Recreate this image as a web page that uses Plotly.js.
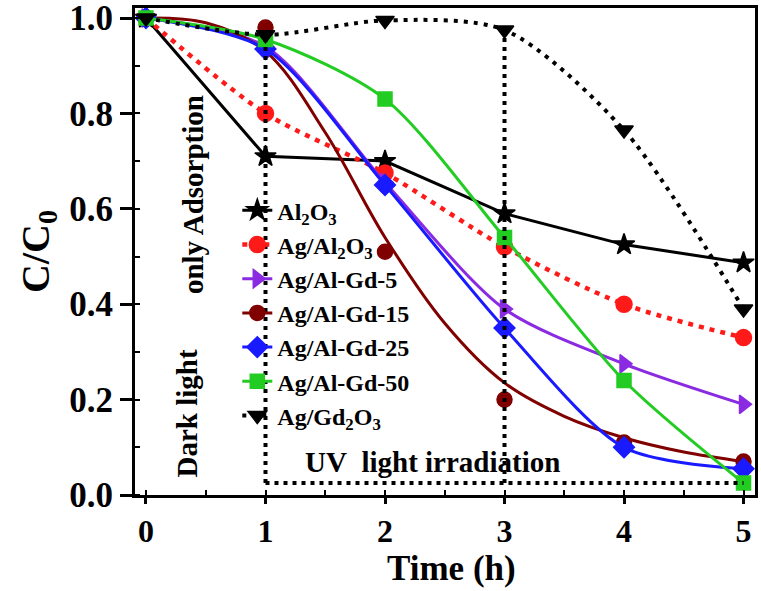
<!DOCTYPE html>
<html>
<head>
<meta charset="utf-8">
<script src="https://cdn.plot.ly/plotly-3.0.1.min.js"></script>
<style>html,body{margin:0;padding:0;background:#fff;}#chart{width:761px;height:591px;}</style>
</head>
<body>
<div id="chart"></div>
<script>
const time = [0, 1, 2, 3, 4, 5];
const al2o3 = [1.0, 0.71, 0.70, 0.59, 0.525, 0.487];
const agAl2o3 = [1.0, 0.80, 0.675, 0.52, 0.40, 0.33];
const agAlGd5 = [1.0, 0.94, 0.655, 0.39, 0.275, 0.19];
const agAlGd15 = [1.0, 0.98, 0.51, 0.20, 0.11, 0.07];
const agAlGd25 = [1.0, 0.935, 0.65, 0.35, 0.10, 0.055];
const agAlGd50 = [1.0, 0.955, 0.83, 0.54, 0.24, 0.025];
const agGd2o3 = [1.0, 0.965, 0.995, 0.975, 0.765, 0.39];

// fitted curve of Ag/Al-Gd-15
const fit15Time = [0, 0.5, 1, 1.5, 2, 2.5, 3, 3.5, 4, 4.5, 5];
const fit15 = [1.0, 0.99, 0.93, 0.76, 0.54, 0.36, 0.235, 0.165, 0.12, 0.09, 0.07];

const seriesNames = ['Al<sub>2</sub>O<sub>3</sub>', 'Ag/Al<sub>2</sub>O<sub>3</sub>', 'Ag/Al-Gd-5', 'Ag/Al-Gd-15', 'Ag/Al-Gd-25', 'Ag/Al-Gd-50', 'Ag/Gd<sub>2</sub>O<sub>3</sub>'];
const yTickVals = [0, 0.2, 0.4, 0.6, 0.8, 1.0];
const yTickText = ['0.0', '0.2', '0.4', '0.6', '0.8', '1.0'];

const guideX = [1, 3];
const guideTop = [0.96, 0.96];
const baselineY = 0.025;
const baselineX = [1, 5];

const font = 'Liberation Serif, Times New Roman, serif';

function tr(x, y, name, color, symbol, dash, shape, msize, width) {
  return {
    x: x, y: y, name: name, type: 'scatter', mode: 'lines+markers',
    line: {color: color, width: width || 3, dash: dash, shape: shape, smoothing: 0.8},
    marker: {symbol: symbol, size: msize || 15, color: color, line: {color: color, width: 1.5}}
  };
}

// markers of Ag/Al-Gd-15 without connecting segments (the line is the fitted curve)
const gapX = time.flatMap(v => [v, null]);
const gapY = agAlGd15.flatMap(v => [v, null]);

const fitTrace = {x: fit15Time, y: fit15, type: 'scatter', mode: 'lines', showlegend: false,
  line: {color: '#800000', width: 3, shape: 'spline', smoothing: 1}};

const traces = [
  tr(time, al2o3, seriesNames[0], '#000000', 'star', 'solid', 'linear', 16),
  tr(time, agAl2o3, seriesNames[1], '#ff1a1a', 'circle', '5px,6px', 'spline', 16, 4.5),
  tr(time, agAlGd5, seriesNames[2], '#8a2be2', 'triangle-right', 'solid', 'spline', 16),
  fitTrace,
  Object.assign(tr(gapX, gapY, seriesNames[3], '#800000', 'circle', 'solid', 'linear', 15), {connectgaps: false}),
  tr(time, agAlGd25, seriesNames[4], '#1a1aff', 'diamond', 'solid', 'spline', 16),
  tr(time, agAlGd50, seriesNames[5], '#22cc22', 'square', 'solid', 'spline', 14),
  tr(time, agGd2o3, seriesNames[6], '#000000', 'triangle-down', '4px,6px', 'spline', 16, 4)
];

const shapes = [];
guideX.forEach((gx, i) => {
  shapes.push({type: 'line', xref: 'x', yref: 'y', x0: gx, x1: gx, y0: baselineY, y1: guideTop[i],
    line: {color: '#000', width: 4, dash: '4px,5px'}});
});
shapes.push({type: 'line', xref: 'x', yref: 'y', x0: baselineX[0], x1: baselineX[1], y0: baselineY, y1: baselineY,
  line: {color: '#000', width: 4, dash: '4px,5px'}});

const annFont = {family: font, size: 29, color: '#000', weight: 'bold'};
const annotations = [
  {x: 0.39, y: 0.63, xref: 'x', yref: 'y', text: 'only Adsorption', textangle: -90, showarrow: false, font: annFont},
  {x: 0.34, y: 0.17, xref: 'x', yref: 'y', text: 'Dark light', textangle: -90, showarrow: false, font: annFont},
  {x: 2.40, y: 0.07, xref: 'x', yref: 'y', text: 'UV&nbsp;&nbsp;light irradiation', showarrow: false, font: annFont},
  {x: 0.511, y: -0.150, xref: 'paper', yref: 'paper', text: 'Time (h)', showarrow: false, yanchor: 'middle',
    font: {family: font, size: 35, color: '#000', weight: 'bold'}}
];

const layout = {
  width: 761, height: 591,
  margin: {l: 135, r: 6, t: 8, b: 96},
  paper_bgcolor: '#fff', plot_bgcolor: '#fff',
  showlegend: true,
  legend: {x: 0.165, y: 0.63, xanchor: 'left', yanchor: 'top', bgcolor: 'rgba(0,0,0,0)',
    font: {family: font, size: 24, color: '#000', weight: 'bold'}, itemwidth: 30},
  xaxis: {
    range: [-0.092, 5.096], tickvals: time, ticktext: time.map(String),
    showgrid: false, zeroline: false, showline: true, linecolor: '#000', linewidth: 3, mirror: true,
    ticks: 'outside', ticklen: 6, tickwidth: 3, tickcolor: '#000',
    minor: {ticks: 'inside', ticklen: 5, tickwidth: 2, dtick: 0.5, tickcolor: '#000'},
    tickfont: {family: font, size: 32, color: '#000', weight: 'bold'}
  },
  yaxis: {
    range: [0, 1.021], tickvals: yTickVals, ticktext: yTickText, ticklabeloverflow: 'allow',
    showgrid: false, zeroline: false, showline: true, linecolor: '#000', linewidth: 3, mirror: true,
    ticks: 'outside', ticklen: 12, tickwidth: 3, tickcolor: '#000',
    minor: {ticks: 'inside', ticklen: 5, tickwidth: 2, dtick: 0.1, tickcolor: '#000'},
    tickfont: {family: font, size: 35, color: '#000', weight: 'bold'},
    title: {text: 'C/C<sub>0</sub>', font: {family: font, size: 40, color: '#000', weight: 'bold'}, standoff: 8}
  },
  shapes: shapes,
  annotations: annotations
};

Plotly.newPlot('chart', traces, layout, {displayModeBar: false, staticPlot: true});
</script>
</body>
</html>
